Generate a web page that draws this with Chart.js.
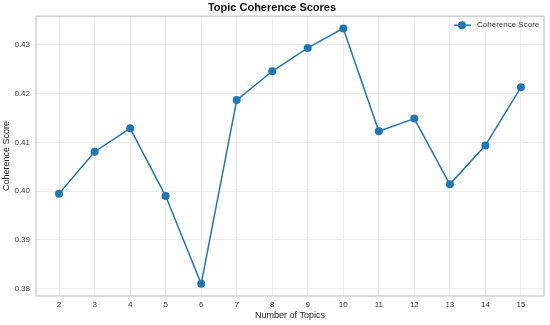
<!DOCTYPE html>
<html>
<head>
<meta charset="utf-8">
<script src="https://cdn.jsdelivr.net/npm/chart.js@4/dist/chart.umd.min.js"></script>
<style>
html,body{margin:0;padding:0;background:#fff}
canvas{display:block}
</style>
</head>
<body>
<canvas id="chart" width="550" height="325"></canvas>
<script>
const topics=[2,3,4,5,6,7,8,9,10,11,12,13,14,15]
const scores=[0.3995,0.4081,0.4129,0.3990,0.3810,0.4187,0.4246,0.4294,0.4334,0.4123,0.4149,0.4014,0.4094,0.4213]
const yTicks=[0.38,0.39,0.40,0.41,0.42,0.43]

const BLUE="#1f77b4"
const FONT="'Liberation Sans', Arial, sans-serif"

// frame round the plot area plus the legend in the top right corner
const framePlugin={
id:"frame",
afterDraw(chart){
const a=chart.chartArea
const c=chart.ctx
c.save()
c.strokeStyle="#d0d0d0"
c.lineWidth=1.5
c.strokeRect(a.left,a.top,a.right-a.left,a.bottom-a.top)

const lx=a.right-82
const ly=a.top+9
c.strokeStyle=BLUE
c.lineWidth=1.5
c.beginPath()
c.moveTo(lx-8,ly)
c.lineTo(lx+9,ly)
c.stroke()
c.fillStyle=BLUE
c.beginPath()
c.arc(lx,ly,4,0,Math.PI*2)
c.fill()
c.fillStyle="#333"
c.font="8px "+FONT
c.textBaseline="middle"
c.fillText("Coherence Score",lx+15,ly)
c.restore()
}
}

new Chart(document.getElementById("chart"),{
type:"line",
data:{
datasets:[{
label:"Coherence Score",
data:topics.map((t,i)=>({x:t,y:scores[i]})),
borderColor:BLUE,
backgroundColor:BLUE,
borderWidth:1.5,
pointRadius:4,
pointHoverRadius:4,
pointBorderWidth:0,
tension:0
}]
},
options:{
responsive:false,
animation:false,
layout:{padding:{left:0,right:6,top:0,bottom:0}},
plugins:{
legend:{display:false},
tooltip:{enabled:false},
title:{
display:true,
text:"Topic Coherence Scores",
color:"#111",
font:{family:FONT,size:11,weight:"bold"},
padding:{top:1,bottom:2}
}
},
scales:{
x:{
type:"linear",
min:1.35,
max:15.65,
afterBuildTicks:s=>{s.ticks=topics.map(v=>({value:v}))},
afterFit:s=>{s.height=29},
border:{display:false},
grid:{color:"#ececec",drawTicks:false},
ticks:{color:"#333",font:{family:FONT,size:8},padding:4,maxRotation:0},
title:{display:true,text:"Number of Topics",color:"#222",font:{family:FONT,size:9},padding:{top:0,bottom:4}}
},
y:{
min:0.3785,
max:0.4359,
afterBuildTicks:s=>{s.ticks=yTicks.map(v=>({value:v}))},
afterFit:s=>{s.width=36},
border:{display:false},
grid:{color:"#ececec",drawTicks:false},
ticks:{color:"#333",font:{family:FONT,size:8},padding:6,callback:v=>v.toFixed(2)},
title:{display:true,text:"Coherence Score",color:"#222",font:{family:FONT,size:9},padding:{top:1.5,bottom:0}}
}
}
},
plugins:[framePlugin]
})
</script>
</body>
</html>
